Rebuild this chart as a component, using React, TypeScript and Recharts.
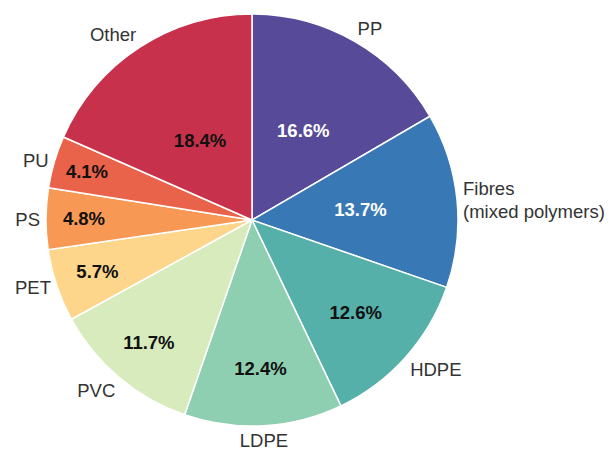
import { PieChart, Pie, Cell } from 'recharts';

const names = ['PP', 'Fibres\n(mixed polymers)', 'HDPE', 'LDPE', 'PVC', 'PET', 'PS', 'PU', 'Other'];
const shares = [16.6, 13.7, 12.6, 12.4, 11.7, 5.7, 4.8, 4.1, 18.4];

const COLORS = ['#574a98', '#3879b5', '#55b0a9', '#8dcfb0', '#d7ebbd', '#fdd68c', '#f89855', '#e9624a', '#c8314b'];
const PCT_COLORS = ['#ffffff', '#ffffff', '#111', '#111', '#111', '#111', '#111', '#111', '#111'];
// distance of the percentage text from the centre, per slice
const PCT_RADIUS = [103, 109, 139, 149, 160, 163, 168, 172, 95];

const data = names.map((name, i) => ({ name, value: shares[i] }));

const CX = 252;
const CY = 220;
const R = 206;
const RAD = Math.PI / 180;
const FONT = '"Liberation Sans", Arial, sans-serif';

const renderLabel = (props: any) => {
    const { midAngle, index, name, value } = props;
    const c = Math.cos(-midAngle * RAD);
    const s = Math.sin(-midAngle * RAD);

    const px = CX + PCT_RADIUS[index] * c;
    const py = CY + PCT_RADIUS[index] * s;

    const lr = R + 6;
    const lx = CX + lr * c;
    let ly = CY + lr * s;
    const anchor = c > 0.25 ? 'start' : c < -0.25 ? 'end' : 'middle';
    if (s < -0.4) ly -= 8;
    else if (s > 0.4) ly += 8;
    const lines = String(name).split('\n');
    const lh = 23;
    const y0 = ly - ((lines.length - 1) * lh) / 2;

    return (
        <g>
            <text x={px} y={py} textAnchor="middle" dominantBaseline="central"
                fill={PCT_COLORS[index]} fontSize={18.5} fontWeight="bold" fontFamily={FONT}>
                {`${Number(value).toFixed(1)}%`}
            </text>
            <text x={lx} y={y0} textAnchor={anchor} dominantBaseline="central"
                fill="#333" fontSize={18.5} fontFamily={FONT}>
                {lines.map((l, i) => (
                    <tspan key={i} x={lx} dy={i === 0 ? 0 : lh}>{l}</tspan>
                ))}
            </text>
        </g>
    );
};

export default function App() {
    return (
        <div style={{ position: 'absolute', left: 0, top: 0, width: 609, height: 453, background: '#fff' }}>
            <PieChart width={609} height={453} margin={{ top: 0, right: 0, bottom: 0, left: 0 }}>
                <Pie
                    data={data}
                    dataKey="value"
                    nameKey="name"
                    cx={CX}
                    cy={CY}
                    outerRadius={R}
                    startAngle={90}
                    endAngle={-270}
                    stroke="#fff"
                    strokeWidth={1.5}
                    labelLine={false}
                    label={renderLabel}
                    isAnimationActive={false}
                >
                    {data.map((entry, index) => (
                        <Cell key={`cell-${index}`} fill={COLORS[index]} />
                    ))}
                </Pie>
            </PieChart>
        </div>
    );
}
